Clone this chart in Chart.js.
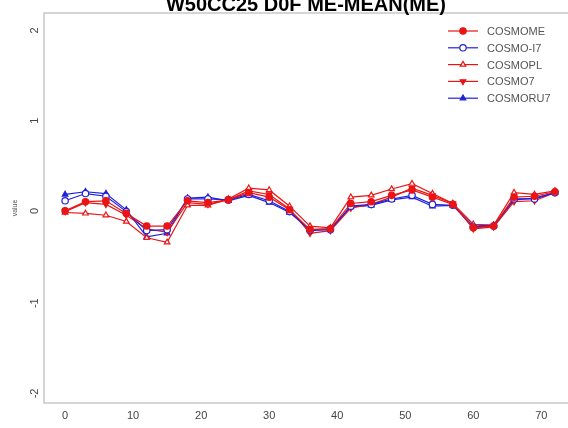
<!DOCTYPE html>
<html>
<head>
<meta charset="utf-8">
<script src="https://cdn.jsdelivr.net/npm/chart.js@4/dist/chart.umd.min.js"></script>
<style>
  html, body { margin: 0; padding: 0; background: #fff; overflow: hidden; }
  #wrap { width: 568px; height: 428px; position: relative; overflow: hidden; }
</style>
</head>
<body>
<div id="wrap"><canvas id="c" width="576" height="428"></canvas></div>
<script>
// Forecast lead time (hours)
const leadTimes = [0, 3, 6, 9, 12, 15, 18, 21, 24, 27, 30, 33, 36, 39, 42, 45, 48, 51, 54, 57, 60, 63, 66, 69, 72];

// Mean error per model
const cosmoME   = [-0.03, 0.07, 0.08, -0.06, -0.20, -0.20, 0.08, 0.06, 0.09, 0.17, 0.12, -0.02, -0.24, -0.23, 0.05, 0.07, 0.14, 0.20, 0.12, 0.04, -0.22, -0.20, 0.12, 0.13, 0.18];
const cosmoI7   = [0.08, 0.16, 0.13, -0.04, -0.25, -0.24, 0.10, 0.10, 0.09, 0.15, 0.08, -0.04, -0.25, -0.24, 0.02, 0.04, 0.10, 0.14, 0.04, 0.03, -0.21, -0.20, 0.10, 0.10, 0.17];
const cosmoPL   = [-0.05, -0.06, -0.08, -0.15, -0.33, -0.38, 0.03, 0.03, 0.10, 0.22, 0.20, 0.02, -0.20, -0.22, 0.12, 0.14, 0.21, 0.27, 0.16, 0.05, -0.18, -0.19, 0.17, 0.15, 0.19];
const cosmo7    = [-0.04, 0.06, 0.04, -0.08, -0.23, -0.27, 0.06, 0.04, 0.09, 0.19, 0.15, -0.01, -0.28, -0.25, 0.00, 0.04, 0.12, 0.22, 0.14, 0.05, -0.23, -0.21, 0.07, 0.08, 0.17];
const cosmoRU7  = [0.15, 0.18, 0.16, -0.02, -0.32, -0.28, 0.11, 0.12, 0.08, 0.14, 0.06, -0.05, -0.24, -0.23, 0.01, 0.03, 0.09, 0.12, 0.02, 0.03, -0.20, -0.19, 0.09, 0.11, 0.17];

const seriesNames = ['COSMOME', 'COSMO-I7', 'COSMOPL', 'COSMO7', 'COSMORU7'];
const xTicks = [0, 10, 20, 30, 40, 50, 60, 70];
const yTicks = [-2, -1, 0, 1, 2];
const titleText = 'W50CC25 D0F ME-MEAN(ME)';
const yTitle = 'value';

const RED = '#ea1414';
const BLUE = '#2020dc';

const styles = [
  { color: RED,  point: 'circle',   fill: true,  rotation: 0 },
  { color: BLUE, point: 'circle',   fill: false, rotation: 0 },
  { color: RED,  point: 'triangle', fill: false, rotation: 0 },
  { color: RED,  point: 'triangle', fill: true,  rotation: 180 },
  { color: BLUE, point: 'triangle', fill: true,  rotation: 0 }
];

const values = [cosmoME, cosmoI7, cosmoPL, cosmo7, cosmoRU7];

const datasets = values.map((vals, i) => ({
  label: seriesNames[i],
  data: leadTimes.map((t, k) => ({ x: t, y: vals[k] })),
  borderColor: styles[i].color,
  backgroundColor: styles[i].fill ? styles[i].color : '#ffffff',
  pointBorderColor: styles[i].color,
  pointBackgroundColor: styles[i].fill ? styles[i].color : '#ffffff',
  pointStyle: styles[i].point,
  pointRotation: styles[i].rotation,
  pointRadius: 3.2,
  pointBorderWidth: 1.2,
  borderWidth: 1.2,
  tension: 0,
  fill: false
}));

const FONT = '"Liberation Sans", Arial, sans-serif';

// Frame, title, axis title and legend drawn on top of the chart
const decorations = {
  id: 'decorations',
  afterDraw(chart) {
    const { ctx, chartArea: a } = chart;
    ctx.save();
    // frame
    ctx.strokeStyle = '#c8c8c8';
    ctx.lineWidth = 1.5;
    ctx.strokeRect(a.left, a.top, a.right - a.left + 2, a.bottom - a.top);
    // title
    ctx.fillStyle = '#000';
    ctx.font = 'bold 20px ' + FONT;
    ctx.textAlign = 'center';
    ctx.textBaseline = 'alphabetic';
    ctx.fillText(titleText, 306, 11);
    // y axis title
    ctx.save();
    ctx.translate(15, (a.top + a.bottom) / 2);
    ctx.rotate(-Math.PI / 2);
    ctx.font = '7px ' + FONT;
    ctx.fillStyle = '#555';
    ctx.textAlign = 'center';
    ctx.textBaseline = 'middle';
    ctx.fillText(yTitle, 0, 0);
    ctx.restore();
    // legend
    const lx = 448, ly = 31, dy = 16.8;
    ctx.font = '11px ' + FONT;
    ctx.textAlign = 'left';
    ctx.textBaseline = 'middle';
    seriesNames.forEach((name, i) => {
      const y = ly + i * dy;
      const s = styles[i];
      ctx.strokeStyle = s.color;
      ctx.lineWidth = 1.2;
      ctx.beginPath();
      ctx.moveTo(lx, y);
      ctx.lineTo(lx + 30, y);
      ctx.stroke();
      ctx.fillStyle = s.fill ? s.color : '#ffffff';
      Chart.helpers.drawPoint(ctx, {
        pointStyle: s.point, rotation: s.rotation, radius: 3.2, borderWidth: 1.2
      }, lx + 15, y);
      ctx.fillStyle = '#555';
      ctx.fillText(name, lx + 39, y + 1);
    });
    ctx.restore();
  }
};

new Chart(document.getElementById('c'), {
  type: 'line',
  data: { datasets },
  options: {
    responsive: false,
    animation: false,
    layout: { autoPadding: false, padding: { top: 13, right: 0, left: 0, bottom: 0 } },
    plugins: { legend: { display: false }, title: { display: false }, tooltip: { enabled: false } },
    scales: {
      x: {
        type: 'linear',
        min: -3.1,
        max: 75.1,
        afterFit(s) { s.height = 25; s.paddingLeft = 0; s.paddingRight = 0; },
        afterBuildTicks(s) { s.ticks = xTicks.map(v => ({ value: v })); },
        grid: { display: false, drawOnChartArea: false, drawTicks: true, tickLength: 4, tickColor: '#999' },
        border: { display: false },
        ticks: { color: '#444', font: { family: FONT, size: 11 }, padding: 2, maxRotation: 0 }
      },
      y: {
        type: 'linear',
        min: -2.16,
        max: 2.16,
        afterFit(s) { s.width = 44; s.paddingTop = 0; s.paddingBottom = 0; },
        afterBuildTicks(s) { s.ticks = yTicks.map(v => ({ value: v })); },
        grid: { display: false, drawOnChartArea: false, drawTicks: true, tickLength: 4, tickColor: '#999' },
        border: { display: false },
        ticks: { color: '#444', font: { family: FONT, size: 11 }, padding: 5, minRotation: 90, maxRotation: 90 }
      }
    }
  },
  plugins: [decorations]
});
</script>
</body>
</html>
